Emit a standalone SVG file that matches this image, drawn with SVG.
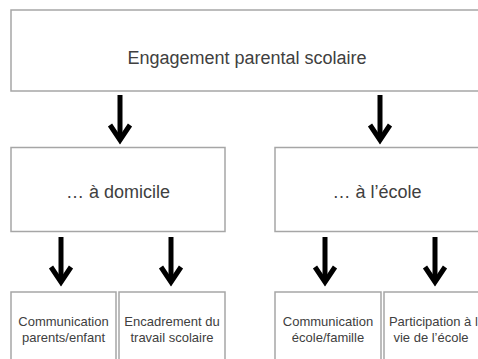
<svg xmlns="http://www.w3.org/2000/svg" width="478" height="359" viewBox="0 0 478 359">
<style>
.box{fill:#ffffff;stroke:#a6a6a6;stroke-width:1.5}
.t{font-family:"Liberation Sans",Arial,sans-serif;fill:#404040;text-anchor:middle}
.big{font-size:18px}
.small{font-size:13px}
.stem{stroke:#000;stroke-width:5;fill:none}
.head{stroke:#000;stroke-width:5;fill:none;stroke-linejoin:miter;stroke-miterlimit:10}
</style>
<defs>
<g id="arrow">
<line class="stem" x1="0" y1="0" x2="0" y2="44"/>
<polyline class="head" points="-10,30 0,45 10,30"/>
<polygon points="-4,38 0,49 4,38" fill="#000"/>
</g>
</defs>
<rect width="478" height="359" fill="#ffffff"/>
<g id="connectors">
<use href="#arrow" transform="translate(120,95)"/>
<use href="#arrow" transform="translate(380,95)"/>
<use href="#arrow" transform="translate(61,237)"/>
<use href="#arrow" transform="translate(171,237)"/>
<use href="#arrow" transform="translate(325,237)"/>
<use href="#arrow" transform="translate(435,237)"/>
</g>
<g id="node-engagement">
<rect class="box" x="11" y="10" width="480" height="81"/>
<text class="t big" x="247" y="64">Engagement parental scolaire</text>
</g>
<g id="node-domicile">
<rect class="box" x="11" y="147.5" width="214" height="84"/>
<text class="t big" x="118" y="198">… à domicile</text>
</g>
<g id="node-ecole">
<rect class="box" x="275" y="147.5" width="210" height="84"/>
<text class="t big" x="377" y="198">… à l’école</text>
</g>
<g id="node-comm-parents">
<rect class="box" x="11" y="292" width="105" height="80"/>
<text class="t small" x="63.5" y="326">Communication</text>
<text class="t small" x="63.5" y="342">parents/enfant</text>
</g>
<g id="node-encadrement">
<rect class="box" x="119" y="292" width="106" height="80"/>
<text class="t small" x="172" y="326">Encadrement du</text>
<text class="t small" x="172" y="342">travail scolaire</text>
</g>
<g id="node-comm-ecole">
<rect class="box" x="275" y="292" width="106" height="80"/>
<text class="t small" x="328" y="326">Communication</text>
<text class="t small" x="328" y="342">école/famille</text>
</g>
<g id="node-participation">
<rect class="box" x="384" y="292" width="110" height="80"/>
<text class="t small" x="437" y="326">Participation à la</text>
<text class="t small" x="431" y="342">vie de l’école</text>
</g>
</svg>
